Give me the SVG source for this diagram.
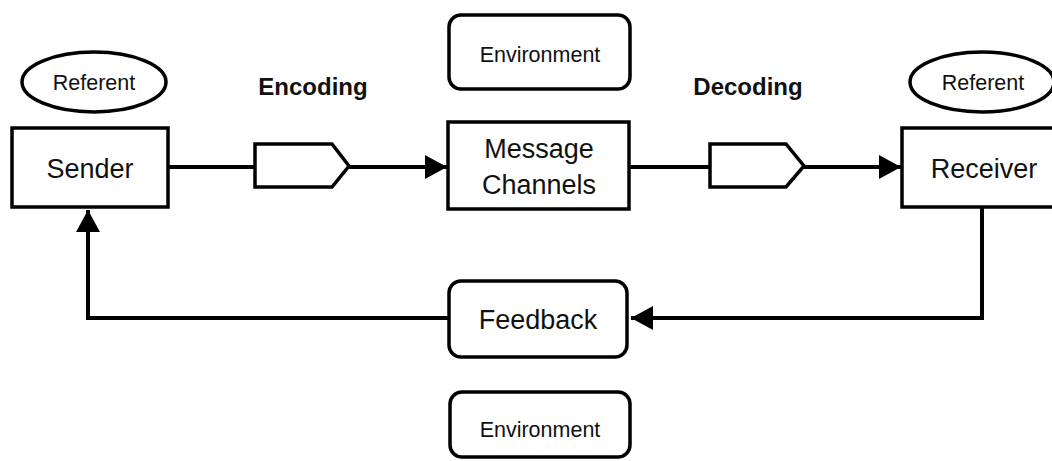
<svg xmlns="http://www.w3.org/2000/svg" width="1052" height="461" viewBox="0 0 1052 461">
<style>
.box{fill:#fff;stroke:#000;stroke-width:3.5}
.t{font-family:"Liberation Sans",Arial,sans-serif;fill:#111;text-anchor:middle}
.big{font-size:27px}
.sm{font-size:21.5px}
.bold{font-size:24px;font-weight:bold}
.ln{fill:none;stroke:#000;stroke-width:4}
</style>
<defs>
<marker id="ah" viewBox="0 0 22 24" refX="22" refY="12" markerWidth="22" markerHeight="24" markerUnits="userSpaceOnUse" orient="auto">
<path d="M0,0 L22,12 L0,24 Z" fill="#000"/>
</marker>
</defs>
<rect width="1052" height="461" fill="#fff"/>
<g id="connectors">
<line class="ln" x1="168" y1="167" x2="255" y2="167"/>
<line class="ln" x1="349" y1="167" x2="447" y2="167" marker-end="url(#ah)"/>
<line class="ln" x1="629" y1="167" x2="710" y2="167"/>
<line class="ln" x1="804" y1="167" x2="901" y2="167" marker-end="url(#ah)"/>
<polyline class="ln" points="982,207 982,318 631,318" marker-end="url(#ah)"/>
<polyline class="ln" points="449,318 88,318 88,210" marker-end="url(#ah)"/>
</g>
<g id="encoder">
<polygon class="box" points="255,144 332,144 349,166 332,187 255,187"/>
</g>
<g id="decoder">
<polygon class="box" points="710,144 786,144 804,166 786,187 710,187"/>
</g>
<g id="referent-left">
<ellipse class="box" cx="94" cy="82" rx="72" ry="30"/>
<text class="t sm" x="94" y="90">Referent</text>
</g>
<g id="referent-right">
<ellipse class="box" cx="982" cy="82" rx="72" ry="30"/>
<text class="t sm" x="983" y="90">Referent</text>
</g>
<g id="encoding-label">
<text class="t bold" x="313" y="95">Encoding</text>
</g>
<g id="decoding-label">
<text class="t bold" x="748" y="95">Decoding</text>
</g>
<g id="sender">
<rect class="box" x="12" y="128" width="156" height="79"/>
<text class="t big" x="90" y="178">Sender</text>
</g>
<g id="message">
<rect class="box" x="448" y="122" width="181" height="87"/>
<text class="t big" x="539" y="158">Message</text>
<text class="t big" x="539" y="194">Channels</text>
</g>
<g id="receiver">
<rect class="box" x="902" y="128" width="160" height="79"/>
<text class="t big" x="984" y="178">Receiver</text>
</g>
<g id="environment-top">
<rect class="box" x="449" y="15" width="181" height="74" rx="12"/>
<text class="t sm" x="540" y="62">Environment</text>
</g>
<g id="feedback">
<rect class="box" x="449" y="281" width="178" height="76" rx="12"/>
<text class="t big" x="538" y="329">Feedback</text>
</g>
<g id="environment-bottom">
<rect class="box" x="450" y="392" width="180" height="65" rx="12"/>
<text class="t sm" x="540" y="437">Environment</text>
</g>
</svg>
